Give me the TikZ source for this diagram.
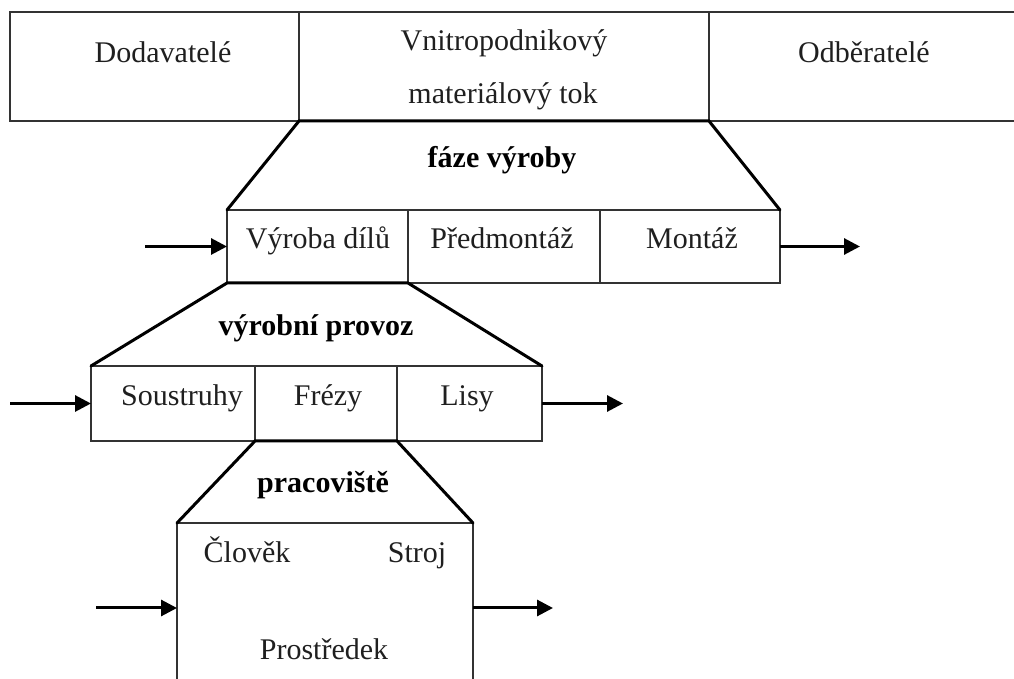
\documentclass[tikz,border=0pt]{standalone}
\usepackage{fontspec}
\setmainfont{Liberation Serif}
\usetikzlibrary{arrows.meta}

\begin{document}
\begin{tikzpicture}[x=0.5pt,y=-0.5pt,
  cell/.style 2 args={draw=black!80, line width=1pt, rectangle, inner sep=0pt,
    outer sep=0pt, minimum width={#1*0.5pt}, minimum height={#2*0.5pt}},
  lbl/.style={anchor=base, inner sep=0pt, text=black!88,
    font=\fontsize{15pt}{18pt}\selectfont},
  title/.style={anchor=base, inner sep=0pt, text=black,
    font=\fontsize{15pt}{18pt}\selectfont\bfseries},
  funnel/.style={draw=black, line width=1.5pt, line cap=round},
  flow/.style={draw=black, line width=1.5pt, -{Triangle[length=8pt,width=8pt]}}]

\useasboundingbox (0,0) rectangle (1014,679);

% --- supply chain row ---
\node[cell={289}{109}] (sup)  at (154.5,66.5) {};
\node[cell={410}{109}] (int)  at (504,66.5)   {};
\node[cell={311}{109}] (cust) at (864.5,66.5) {};
\node[lbl] (tsup)  at (163,63)  {Dodavatelé};
\node[lbl] (tint1) at (504,51)  {Vnitropodnikový};
\node[lbl] (tint2) at (503,104) {materiálový tok};
\node[lbl] (tcust) at (864,63)  {Odběratelé};

% --- production phases ---
\node[cell={181}{73}] (ph1) at (317.5,246.5) {};
\node[cell={192}{73}] (ph2) at (504,246.5)   {};
\node[cell={180}{73}] (ph3) at (690,246.5)   {};
\node[title] (tph)  at (502,168) {fáze výroby};
\node[lbl]   (tph1) at (318,249) {Výroba dílů};
\node[lbl]   (tph2) at (502,249) {Předmontáž};
\node[lbl]   (tph3) at (692,249) {Montáž};

% --- production shop ---
\node[cell={164}{75}] (pr1) at (173,403.5)   {};
\node[cell={142}{75}] (pr2) at (326,403.5)   {};
\node[cell={145}{75}] (pr3) at (469.5,403.5) {};
\node[title] (tpr)  at (316,336) {výrobní provoz};
\node[lbl]   (tpr1) at (182,406) {Soustruhy};
\node[lbl]   (tpr2) at (328,406) {Frézy};
\node[lbl]   (tpr3) at (467,406) {Lisy};

% --- workplace ---
\node[cell={296}{177}] (wp) at (325,611.5) {};
\node[title] (twp)  at (323,493) {pracoviště};
\node[lbl]   (twp1) at (247,563) {Člověk};
\node[lbl]   (twp2) at (417,563) {Stroj};
\node[lbl]   (twp3) at (324,660) {Prostředek};

% --- funnels between levels ---
\draw[funnel] (ph1.north west) -- (int.south west) -- (int.south east) -- (ph3.north east);
\draw[funnel] (pr1.north west) -- (ph1.south west) -- (ph1.south east) -- (pr3.north east);
\draw[funnel] (wp.north west) -- (pr2.south west) -- (pr2.south east) -- (wp.north east);

% --- material flow arrows ---
\coordinate (phin)  at (145,246.5);
\coordinate (phout) at (860,246.5);
\coordinate (prin)  at (10,403.5);
\coordinate (prout) at (623,403.5);
\coordinate (wpin)  at (96,608);
\coordinate (wpout) at (553,608);
\draw[flow] (phin) -- (ph1.west);
\draw[flow] (ph3.east) -- (phout);
\draw[flow] (prin) -- (pr1.west);
\draw[flow] (pr3.east) -- (prout);
\draw[flow] (wpin) -- (wpin -| wp.west);
\draw[flow] (wpout -| wp.east) -- (wpout);

\end{tikzpicture}
\end{document}
